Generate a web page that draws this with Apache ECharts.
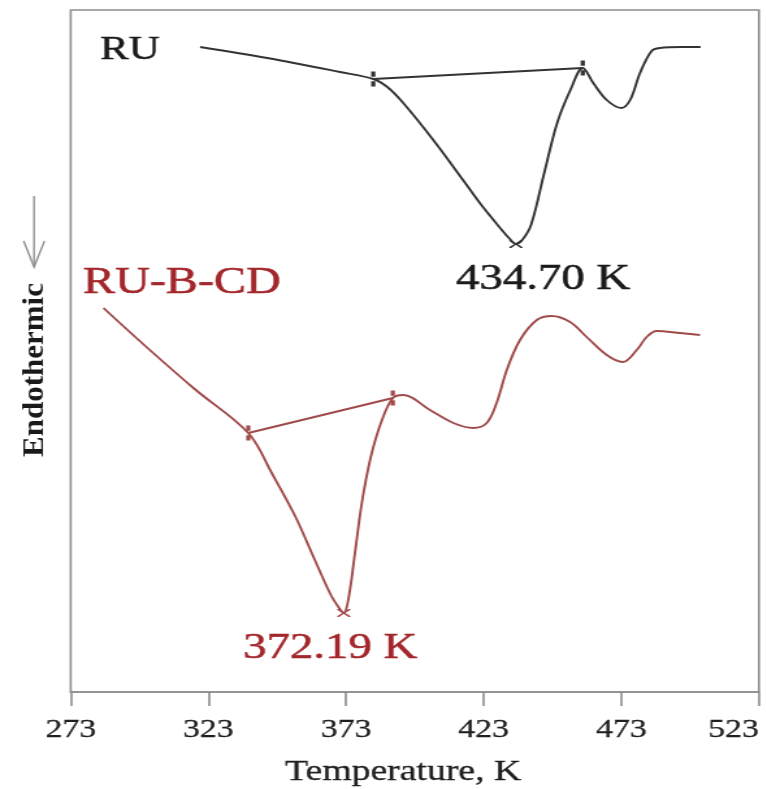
<!DOCTYPE html>
<html>
<head>
<meta charset="utf-8">
<script src="https://cdn.jsdelivr.net/npm/echarts@6.0.0/dist/echarts.min.js"></script>
<style>
  html, body { margin: 0; padding: 0; background: #fff; overflow: hidden; }
  /* the figure is drawn narrow and widened horizontally */
  #chart { width: 589px; height: 789px; transform: scaleX(1.3); transform-origin: 0 0; }
</style>
</head>
<body>
<div id="chart"></div>
<script>
// DSC thermograms (heat flow, arbitrary units) versus temperature in K
const seriesNames = ['RU', 'RU-B-CD'];
const tickValues = [273, 323, 373, 423, 473, 523];

const ruTemperature = [320.0, 344.4, 370.8, 382.9, 388.0, 393.8, 404.7, 415.5, 421.6, 428.7, 432.2, 434.70,
  437.0, 440.2, 445.0, 449.7, 454.5, 459.0, 462.8, 467.7, 473.0, 476.2, 479.8, 484.0, 487.0, 495.0, 501.8];
const ruSignal = [645, 634, 620, 613, 605, 589, 552, 512, 489, 465, 454, 448,
  452, 467, 519, 569, 602, 624, 609, 592, 584, 592, 619, 641, 644, 645, 645];
const ruBaselineTemperature = [382.9, 459.0];
const ruBaselineSignal = [613, 624];

const cdTemperature = [284.9, 300.5, 318.0, 337.5, 346.0, 354.5, 362.0, 367.5, 370.5, 372.19, 374.0,
  376.3, 378.8, 382.0, 385.8, 390.0, 393.8, 403.5, 412.0, 419.2, 424.1, 427.7, 431.4, 436.2,
  442.3, 447.7, 454.4, 460.4, 467.7, 473.5, 478.6, 482.2, 485.9, 494.3, 501.6];
const cdSignal = [384, 345, 303, 259, 219, 176, 130, 97, 84, 79, 95,
  140, 190, 235, 270, 294, 297, 282, 269, 264, 269, 289, 322, 352,
  372, 376, 370, 355, 337, 330, 342, 355, 361, 359, 357];
const cdBaselineTemperature = [337.5, 390.0];
const cdBaselineSignal = [259, 294];

const BLACK = '#333333';
const RED = '#a04a4a';
const RED_TEXT = '#a3262b';
const AXIS = '#8c8c8c';
const FONT = '"Liberation Serif", "Times New Roman", serif';

const pairs = (xs, ys) => xs.map((x, i) => [x, ys[i]]);
const lowest = pts => pts.reduce((m, p) => (p[1] < m[1] ? p : m));

const ruPoints = pairs(ruTemperature, ruSignal);
const cdPoints = pairs(cdTemperature, cdSignal);
const ruPeak = lowest(ruPoints);
const cdPeak = lowest(cdPoints);

// small "x" for the peak minimum, split tick for the baseline ends
const crossPath = 'path://M0,0L2,0L7,4.2L12,0L14,0L14,1.2L8.6,5L14,8.8L14,10L12,10L7,5.8L2,10L0,10L0,8.8L5.4,5L0,1.2Z';
const splitTickPath = 'path://M0,0H2V5H0Z M0,9H2V14H0Z';

function curve(name, pts, color) {
  return {
    name, type: 'line', data: pts, smooth: 0.35, showSymbol: false, silent: true,
    lineStyle: { color, width: 1.9 }, z: 3
  };
}
function baseline(xs, ys, color) {
  return {
    type: 'line', data: pairs(xs, ys), symbol: splitTickPath, symbolSize: [3.2, 15],
    showSymbol: true, silent: true,
    lineStyle: { color, width: 1.9 }, itemStyle: { color, opacity: 1 }, z: 4
  };
}
function peak(pt, color, textColor, offset) {
  return {
    type: 'scatter', data: [pt], symbol: crossPath, symbolSize: [10, 8], silent: true,
    itemStyle: { color, opacity: 1 }, z: 5,
    label: {
      show: true, position: 'bottom', distance: 2, offset, opacity: 1,
      formatter: p => p.value[0].toFixed(2) + ' K',
      fontFamily: FONT, fontSize: 36, color: textColor,
      textBorderColor: textColor, textBorderWidth: 0.5
    }
  };
}

const chart = echarts.init(document.getElementById('chart'), null, { renderer: 'canvas' });
chart.setOption({
  animation: false,
  backgroundColor: '#ffffff',
  grid: {
    left: 54.4, right: 5.2, top: 10, bottom: 97,
    show: true, borderColor: AXIS, borderWidth: 1.6, backgroundColor: 'transparent',
    containLabel: false, outerBoundsMode: 'none'
  },
  xAxis: {
    type: 'value', min: 273, max: 523,
    name: 'Temperature, K', nameLocation: 'middle', nameGap: 66,
    nameTextStyle: { fontFamily: FONT, fontSize: 29, color: '#1e1e1e', padding: [0, 18, 0, 0],
      textBorderColor: '#1e1e1e', textBorderWidth: 0.3 },
    axisLine: { show: true, lineStyle: { color: AXIS, width: 1.6 } },
    axisTick: { show: true, customValues: tickValues, length: 14, lineStyle: { color: AXIS, width: 1.6 } },
    axisLabel: { show: true, customValues: tickValues, margin: 25, alignMaxLabel: 'right',
      fontFamily: FONT, fontSize: 26, color: '#1e1e1e', textBorderColor: '#1e1e1e', textBorderWidth: 0.3 },
    splitLine: { show: false }
  },
  yAxis: {
    type: 'value', min: 0, max: 682, show: false, splitLine: { show: false }
  },
  series: [
    curve(seriesNames[0], ruPoints, BLACK),
    baseline(ruBaselineTemperature, ruBaselineSignal, BLACK),
    peak(ruPeak, BLACK, '#1a1a1a', [21, 12]),
    curve(seriesNames[1], cdPoints, RED),
    baseline(cdBaselineTemperature, cdBaselineSignal, RED),
    peak(cdPeak, RED, RED_TEXT, [-10.5, 12])
  ],
  graphic: [
    { type: 'text', x: 76.9, y: 50, silent: true,
      style: { text: seriesNames[0], font: '33px ' + FONT, fill: '#1a1a1a', verticalAlign: 'middle',
        stroke: '#1a1a1a', lineWidth: 0.5 } },
    { type: 'text', x: 63.8, y: 283, silent: true,
      style: { text: seriesNames[1], font: '37px ' + FONT, fill: RED_TEXT, verticalAlign: 'middle',
        stroke: RED_TEXT, lineWidth: 0.5 } },
    { type: 'line', silent: true,
      shape: { x1: 26.2, y1: 196, x2: 26.2, y2: 266 }, style: { stroke: AXIS, lineWidth: 1.3 } },
    { type: 'polyline', silent: true,
      shape: { points: [[18.2, 241], [26.2, 267], [34.2, 241]] }, style: { stroke: AXIS, lineWidth: 1.3, fill: null } },
    { type: 'text', x: 26.9, y: 370, rotation: Math.PI / 2, scaleY: 1 / 1.3, silent: true,
      style: { text: 'Endothermic', font: 'bold 31px ' + FONT, fill: '#1a1a1a', align: 'center', verticalAlign: 'middle' } }
  ]
});
</script>
</body>
</html>
